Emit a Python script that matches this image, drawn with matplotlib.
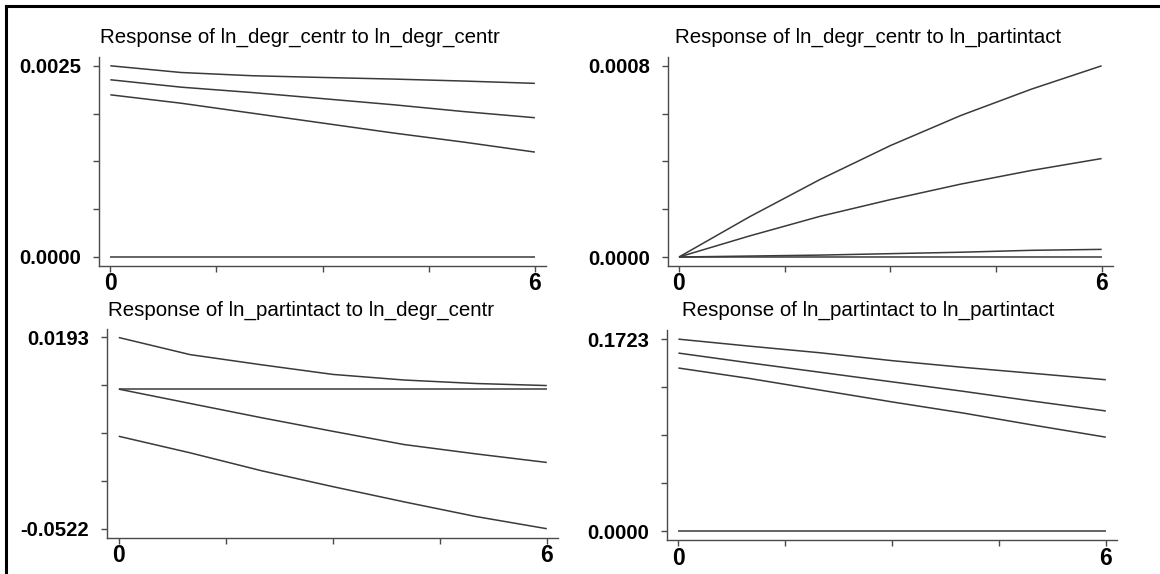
import matplotlib
matplotlib.use("Agg")
import matplotlib.pyplot as plt
from matplotlib.lines import Line2D
from matplotlib import font_manager as fm

# ---------------- data ----------------
steps = [0, 1, 2, 3, 4, 5, 6]
xtick_pos = [0, 1.5, 3, 4.5, 6]
xtick_labels = ["0", "", "", "", "6"]

titles = [
    "Response of ln_degr_centr to ln_degr_centr",
    "Response of ln_degr_centr to ln_partintact",
    "Response of ln_partintact to ln_degr_centr",
    "Response of ln_partintact to ln_partintact",
]

# panel 1: ln_degr_centr -> ln_degr_centr
p1_upper = [0.00250, 0.002412, 0.00237, 0.002347, 0.002326, 0.00230, 0.00227]
p1_mid = [0.002317, 0.00222, 0.00215, 0.00207, 0.00199, 0.00190, 0.00182]
p1_lower = [0.00212, 0.00201, 0.00188, 0.00175, 0.00162, 0.00150, 0.00137]
p1_zero = [0, 0, 0, 0, 0, 0, 0]
p1_ymin, p1_ymax = 0.0, 0.0025
p1_labels = ["0.0000", "0.0025"]

# panel 2: ln_partintact -> ln_degr_centr
p2_upper = [0.0, 0.000168, 0.000324, 0.000466, 0.000592, 0.000702, 0.00080]
p2_mid = [0.0, 0.0000880, 0.000170, 0.000240, 0.000305, 0.000362, 0.000412]
p2_lower = [0.0, 0.000004, 0.000008, 0.000014, 0.000020, 0.000028, 0.000032]
p2_zero = [0, 0, 0, 0, 0, 0, 0]
p2_ymin, p2_ymax = 0.0, 0.0008
p2_labels = ["0.0000", "0.0008"]

# panel 3: ln_degr_centr -> ln_partintact
p3_upper = [0.0193, 0.0129, 0.0091, 0.0055, 0.0034, 0.0021, 0.00133]
p3_mid = [0.0, -0.00536, -0.01069, -0.01577, -0.02073, -0.02420, -0.02742]
p3_lower = [-0.01763, -0.02382, -0.03051, -0.03646, -0.04216, -0.04761, -0.0522]
p3_zero = [0, 0, 0, 0, 0, 0, 0]
p3_ymin, p3_ymax = -0.0522, 0.0193
p3_labels = ["-0.0522", "0.0193"]

# panel 4: ln_partintact -> ln_partintact
p4_upper = [0.1723, 0.1660, 0.1600, 0.1530, 0.1470, 0.1415, 0.1359]
p4_mid = [0.1598, 0.1510, 0.1425, 0.1340, 0.1255, 0.1165, 0.1079]
p4_lower = [0.1464, 0.1370, 0.1265, 0.1160, 0.1060, 0.0950, 0.0844]
p4_zero = [0, 0, 0, 0, 0, 0, 0]
p4_ymin, p4_ymax = 0.0, 0.1723
p4_labels = ["0.0000", "0.1723"]

# ---------------- styling ----------------
W, H = 1160, 574
DPI = 100
names = {f.name for f in fm.fontManager.ttflist}
base_font = "Liberation Sans" if "Liberation Sans" in names else "DejaVu Sans"
xfont = "Liberation Sans Narrow" if "Liberation Sans Narrow" in names else base_font
plt.rcParams["font.family"] = [base_font, "DejaVu Sans"]

LINE_C = "#3a3a3a"
AX_C = "#4a4a4a"

fig = plt.figure(figsize=(W / DPI, H / DPI), dpi=DPI)
fig.patch.set_facecolor("white")

# axes boxes in pixels: left, right, top, bottom
boxes = [
    (99.0, 546.0, 57.0, 265.7),
    (667.7, 1112.7, 57.0, 266.0),
    (107.3, 558.0, 328.7, 537.7),
    (667.0, 1117.0, 330.3, 540.3),
]
title_pos = [(300.0, 42.7), (867.6, 42.7), (300.6, 315.5), (867.7, 315.5)]

panels = [
    (p1_upper, p1_mid, p1_lower, p1_zero, p1_ymin, p1_ymax, p1_labels),
    (p2_upper, p2_mid, p2_lower, p2_zero, p2_ymin, p2_ymax, p2_labels),
    (p3_upper, p3_mid, p3_lower, p3_zero, p3_ymin, p3_ymax, p3_labels),
    (p4_upper, p4_mid, p4_lower, p4_zero, p4_ymin, p4_ymax, p4_labels),
]

for i, (up, mid, lo, zero, ymin, ymax, ylabs) in enumerate(panels):
    l, r, t, b = boxes[i]
    ax = fig.add_axes([l / W, 1 - b / H, (r - l) / W, (b - t) / H])
    for series in (up, mid, lo, zero):
        ax.plot(steps, series, color=LINE_C, lw=1.1, solid_capstyle="butt")
    span = ymax - ymin
    ax.set_ylim(ymin - 0.047 * span, ymax + 0.046 * span)
    ax.set_xlim(-0.16, 6.157)

    for s in ("top", "right"):
        ax.spines[s].set_visible(False)
    for s in ("left", "bottom"):
        ax.spines[s].set_color(AX_C)
        ax.spines[s].set_linewidth(1.0)

    yt = [ymin + k * span / 4 for k in range(5)]
    ax.set_yticks(yt)
    ax.set_yticklabels([ylabs[0], "", "", "", ylabs[1]])
    ax.set_xticks(xtick_pos)
    ax.set_xticklabels(xtick_labels)

    ax.tick_params(axis="y", direction="out", length=4.5, width=1.0,
                   color=AX_C, pad=8.5, labelsize=14.6)
    ax.tick_params(axis="x", direction="out", length=4.5, width=1.0,
                   color=AX_C, pad=0.0, labelsize=16.5)
    for lab in ax.get_yticklabels():
        lab.set_fontweight("bold")
        lab.set_color("black")
    for lab in ax.get_xticklabels():
        lab.set_fontweight("bold")
        lab.set_family([xfont, "DejaVu Sans"])
        lab.set_color("black")

    tx, ty = title_pos[i]
    fig.text(tx / W, 1 - ty / H, titles[i], ha="center", va="baseline",
             fontsize=14.8, color="black")

# frame on the left and top edges
fx, fy = 6.0 / W, 1 - 6.0 / H
fig.add_artist(Line2D([fx, fx], [0, fy], transform=fig.transFigure,
                      color="black", lw=2.2, solid_capstyle="projecting"))
fig.add_artist(Line2D([fx, 1], [fy, fy], transform=fig.transFigure,
                      color="black", lw=2.2, solid_capstyle="projecting"))

fig.savefig("out.png", dpi=DPI, facecolor="white")
